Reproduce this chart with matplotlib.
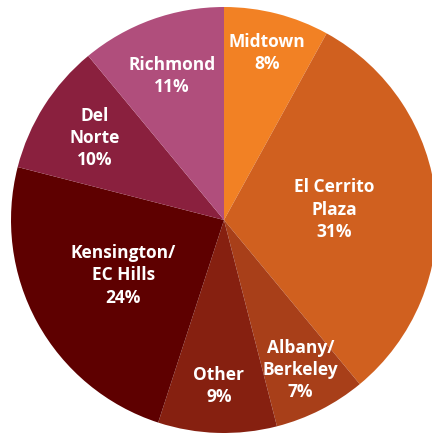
import numpy as np
import matplotlib
matplotlib.use("Agg")
import matplotlib.pyplot as plt

labels = ["Midtown", "El Cerrito\nPlaza", "Albany/\nBerkeley", "Other",
          "Kensington/\nEC Hills", "Del\nNorte", "Richmond"]
shares = [8, 31, 7, 9, 24, 10, 11]
colors = ["#F28124", "#D0601F", "#A83F19", "#862010", "#5E0000", "#8A203E", "#B04E7C"]
# radial position of each label, as a fraction of the radius
label_r = [0.81, 0.52, 0.79, 0.78, 0.54, 0.72, 0.72]

fig = plt.figure(figsize=(4.32, 4.33), dpi=100)
ax = fig.add_axes([11 / 432, 0 / 433, 426 / 432, 426 / 433])
wedges, _ = ax.pie(shares, colors=colors, startangle=90, counterclock=False,
                   radius=1.0, wedgeprops=dict(linewidth=0))
for w, lab, s, r in zip(wedges, labels, shares, label_r):
    ang = np.deg2rad((w.theta1 + w.theta2) / 2)
    ax.text(r * np.cos(ang), r * np.sin(ang), f"{lab}\n{s}%", ha="center", va="center",
            color="white", fontsize=12.5, fontweight="bold", family="Open Sans",
            linespacing=1.3)
ax.set_xlim(-1, 1); ax.set_ylim(-1, 1)
ax.set_aspect("equal")
ax.axis("off")
fig.savefig("out.png", dpi=100)
